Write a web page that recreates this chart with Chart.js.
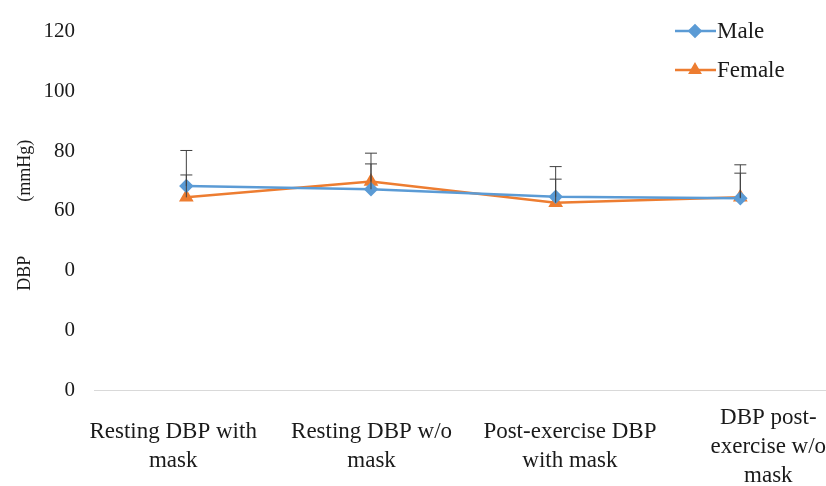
<!DOCTYPE html>
<html>
<head>
<meta charset="utf-8">
<script src="https://cdn.jsdelivr.net/npm/chart.js@4.4.0/dist/chart.umd.min.js"></script>
<style>
  html, body { margin: 0; padding: 0; background: #fff; overflow: hidden; }
  #wrap { width: 896px; height: 486px; position: relative; }
</style>
</head>
<body>
<div id="wrap"><canvas id="dbpChart"></canvas></div>
<script>
// categories
const categories = [
  ['Resting DBP with', 'mask'],
  ['Resting DBP w/o', 'mask'],
  ['Post-exercise DBP', 'with mask'],
  ['DBP post-', 'exercise w/o', 'mask']
];

// series (mean) and upper error (SD)
const maleValues = [68.3, 67.2, 64.7, 64.2];
const femaleValues = [64.5, 69.8, 62.7, 64.5];
const maleErrors = [11.9, 12.1, 10.1, 11.2];
const femaleErrors = [7.5, 5.9, 7.9, 8.1];

// tick labels as printed in the figure (0, 20, 40 all shown as "0")
const tickLabels = ['0', '0', '0', '60', '80', '100', '120'];

const BLUE = '#5b9bd5';
const ORANGE = '#ed7d31';
const FONT = "'Liberation Serif', 'Times New Roman', serif";

// points sit on a linear axis, the category texts are spread a bit wider in the original
const toPoints = arr => arr.map((v, i) => ({ x: i, y: v }));

// error bars, upward only, capped
const errorBars = {
  id: 'errorBars',
  afterDatasetsDraw(chart) {
    const ctx = chart.ctx;
    const y = chart.scales.y;
    const errs = [maleErrors, femaleErrors];
    const vals = [maleValues, femaleValues];
    ctx.save();
    ctx.strokeStyle = '#404040';
    ctx.lineWidth = 1;
    chart.data.datasets.forEach((ds, di) => {
      const meta = chart.getDatasetMeta(di);
      meta.data.forEach((pt, i) => {
        const top = y.getPixelForValue(vals[di][i] + errs[di][i]);
        ctx.beginPath();
        ctx.moveTo(pt.x, pt.y);
        ctx.lineTo(pt.x, top);
        ctx.moveTo(pt.x - 6, top);
        ctx.lineTo(pt.x + 6, top);
        ctx.stroke();
      });
    });
    ctx.restore();
  }
};

// legend with line + marker, like the original
const lineLegend = {
  id: 'lineLegend',
  afterDraw(chart) {
    const ctx = chart.ctx;
    const items = [
      { label: 'Male', color: BLUE, style: 'rectRot', y: 31 },
      { label: 'Female', color: ORANGE, style: 'triangle', y: 70 }
    ];
    ctx.save();
    items.forEach(it => {
      ctx.strokeStyle = it.color;
      ctx.lineWidth = 2.5;
      ctx.beginPath();
      ctx.moveTo(675, it.y);
      ctx.lineTo(716, it.y);
      ctx.stroke();
      ctx.fillStyle = it.color;
      Chart.helpers.drawPoint(ctx, { pointStyle: it.style, radius: 5.5, borderWidth: 1 }, 695, it.y);
      ctx.fillStyle = '#1a1a1a';
      ctx.font = '23px ' + FONT;
      ctx.textBaseline = 'middle';
      ctx.fillText(it.label, 717, it.y + 1);
    });
    ctx.restore();
  }
};

new Chart(document.getElementById('dbpChart'), {
  type: 'line',
  data: {
    labels: categories,
    datasets: [
      {
        label: 'Male',
        data: toPoints(maleValues),
        xAxisID: 'x',
        borderColor: BLUE,
        backgroundColor: BLUE,
        borderWidth: 2.5,
        pointStyle: 'rectRot',
        pointRadius: 5.5,
        pointHoverRadius: 5.5,
        tension: 0
      },
      {
        label: 'Female',
        data: toPoints(femaleValues),
        xAxisID: 'x',
        borderColor: ORANGE,
        backgroundColor: ORANGE,
        borderWidth: 2.5,
        pointStyle: 'triangle',
        pointRadius: 6,
        pointHoverRadius: 6,
        tension: 0
      }
    ]
  },
  options: {
    responsive: true,
    maintainAspectRatio: false,
    animation: false,
    layout: { padding: { left: 0, right: 0, top: 24, bottom: 0 } },
    plugins: {
      legend: { display: false },
      tooltip: { enabled: false }
    },
    scales: {
      x: {
        type: 'linear',
        display: false,
        min: -0.5,
        max: 3.797
      },
      xl: {
        type: 'category',
        position: 'bottom',
        offset: true,
        afterFit(scale) { scale.height = 96; },
        grid: { display: false, drawTicks: false },
        border: { display: true, color: '#d9d9d9', width: 1 },
        ticks: {
          color: '#1a1a1a',
          font: { family: FONT, size: 23, lineHeight: 1.25 },
          padding: 28,
          labelOffset: -20,
          maxRotation: 0,
          autoSkip: false,
          crossAlign: 'center'
        }
      },
      y: {
        min: 0,
        max: 120,
        afterFit(scale) { scale.width = 94; },
        grid: { display: false, drawTicks: false },
        border: { display: false },
        ticks: {
          stepSize: 20,
          color: '#1a1a1a',
          padding: 19,
          font: { family: FONT, size: 21 },
          callback: v => tickLabels[Math.round(v / 20)]
        },
        title: {
          display: true,
          text: 'DBP            (mmHg)  ',
          color: '#1a1a1a',
          font: { family: FONT, size: 18 },
          padding: { top: 14, bottom: 0 }
        }
      }
    }
  },
  plugins: [errorBars, lineLegend]
});
</script>
</body>
</html>
